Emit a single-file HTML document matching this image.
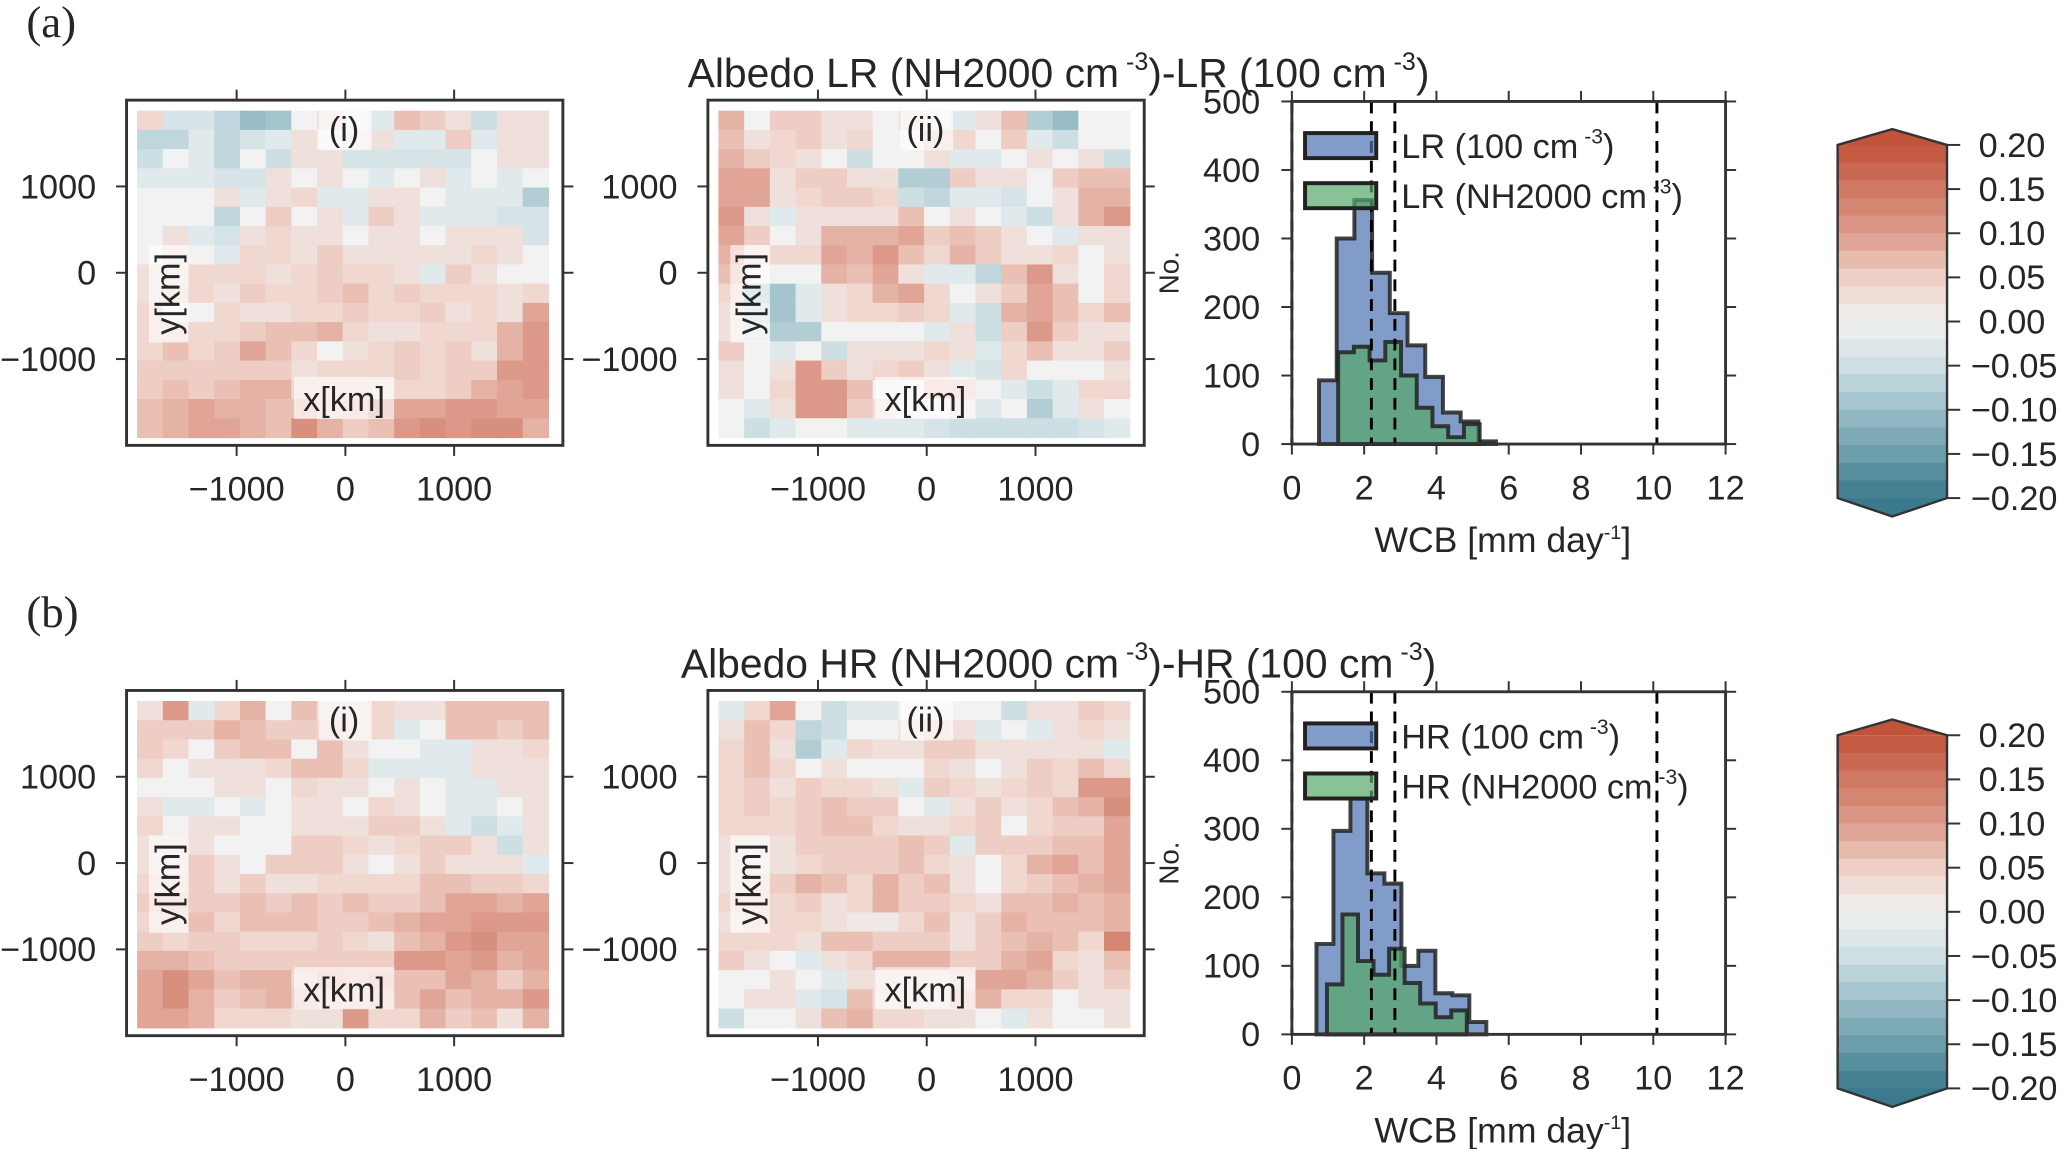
<!DOCTYPE html>
<html><head><meta charset="utf-8"><style>
html,body{margin:0;padding:0;background:#fff;}
svg{display:block;}
text{font-family:"Liberation Sans",sans-serif;fill:#262626;}
</style></head><body>
<svg id="fig" width="2067" height="1149" viewBox="0 0 1568 872" preserveAspectRatio="none" xmlns="http://www.w3.org/2000/svg"></svg>
<script>
// ---- data ----
const xTicks = [-1000, 0, 1000];
const yTicks = [1000, 0, -1000];
const histXTicks = [0, 2, 4, 6, 8, 10, 12];
const histYTicks = [0, 100, 200, 300, 400, 500];
const cbTicks = [0.20, 0.15, 0.10, 0.05, 0.00, -0.05, -0.10, -0.15, -0.20];
const dashLines = [0, 2.2, 2.85, 10.1];
const cellScale = 0.013;

const mapA1 = [
[3,-3,-3,-5,-8,-7,0,2,0,-2,5,4,2,-4,2,2],
[-5,-5,-2,-5,-3,-2,2,0,1,2,-2,-2,4,-2,2,2],
[-4,0,-2,-5,0,-4,2,2,-3,-3,-3,-3,-3,0,2,2],
[-2,-2,-2,-3,-3,2,0,2,0,-2,0,2,-2,0,-2,0],
[0,0,0,2,-2,2,3,-2,-2,2,2,0,-2,-2,-2,-6],
[0,0,0,-5,0,4,0,2,-2,4,2,-2,-2,-2,-3,-3],
[0,2,-2,-3,2,3,2,2,0,2,2,0,2,2,2,-3],
[0,2,0,-2,3,3,2,4,2,2,2,2,2,3,2,0],
[2,2,3,3,3,2,3,4,3,3,2,-2,4,2,0,0],
[2,3,3,2,4,3,3,4,5,3,4,3,3,3,2,3],
[3,0,0,3,2,2,3,3,4,3,3,4,2,3,2,7],
[3,3,3,3,4,5,5,6,3,2,2,3,3,3,6,8],
[3,5,3,4,7,5,3,0,2,3,4,3,4,2,6,8],
[4,4,4,4,4,4,2,3,3,3,4,3,4,4,8,8],
[4,5,4,5,6,6,3,3,3,2,3,3,4,6,7,8],
[5,6,7,6,6,5,5,3,4,7,7,7,8,8,7,7],
[5,6,7,7,6,5,9,6,4,5,8,9,8,9,9,6]];
const mapA2 = [
[6,0,4,4,2,2,0,2,0,-2,2,5,-6,-8,0,0],
[5,2,3,4,2,3,0,0,3,3,0,4,-2,-4,0,0],
[6,4,3,2,0,-4,0,0,2,-2,-2,0,2,0,2,-4],
[7,7,2,4,4,2,2,-6,-6,4,2,2,0,4,5,5],
[7,7,2,3,4,4,3,-4,-5,-2,-2,-3,0,2,6,6],
[8,2,-2,2,2,2,2,5,0,2,0,-2,-4,2,6,8],
[7,4,0,2,6,6,6,7,4,5,4,2,0,-2,2,2],
[6,2,3,3,7,6,8,5,3,6,4,2,2,3,0,2],
[5,0,0,0,6,5,7,2,-2,-2,-5,5,8,2,0,3],
[3,-6,-7,-2,2,3,6,7,3,0,2,4,7,5,0,3],
[2,-4,-7,-2,2,3,3,4,3,-2,-4,6,7,5,3,5],
[2,-3,-6,-6,0,0,0,0,-2,2,-4,4,8,4,2,2],
[4,0,-2,0,-4,2,2,2,3,2,-2,3,5,2,2,4],
[2,0,2,8,4,2,3,4,2,-2,-3,3,0,0,0,2],
[2,0,3,8,8,5,0,0,4,4,0,-2,-4,-2,3,3],
[0,-2,2,8,8,4,2,0,0,2,-2,0,-6,-2,2,0],
[0,-4,-2,0,0,-2,-2,-2,-3,-4,-4,-4,-4,-4,-3,-2]];
const mapB1 = [
[2,8,-2,3,6,0,5,2,2,3,2,2,5,5,5,5],
[4,4,4,6,5,4,4,3,2,3,-2,0,5,5,4,5],
[4,3,0,4,5,5,0,5,2,0,0,-2,-2,2,2,3],
[3,0,2,2,2,3,5,5,3,-2,-2,-2,-2,2,2,2],
[0,0,0,2,2,0,3,2,2,0,2,0,-2,-2,2,2],
[2,-2,-2,0,-2,0,2,2,0,3,2,0,-2,-2,0,2],
[3,0,2,2,0,0,2,2,2,4,4,2,-2,-4,-2,2],
[2,2,2,0,0,0,4,4,3,2,3,4,4,2,-4,2],
[2,2,4,2,0,4,4,4,2,0,2,4,2,2,2,-2],
[3,3,4,2,4,2,2,3,3,3,3,5,5,4,4,3],
[4,4,4,4,5,4,5,4,5,4,4,5,7,7,6,7],
[3,3,5,3,5,5,5,4,4,5,6,7,7,8,8,8],
[4,3,4,4,3,3,3,4,3,2,5,6,8,9,7,7],
[6,6,5,4,4,4,4,4,4,4,8,8,7,8,6,7],
[7,9,7,5,6,6,3,5,4,5,5,5,7,6,4,6],
[7,9,6,4,5,6,4,3,3,4,5,7,5,6,6,8],
[7,7,6,3,3,3,2,2,8,3,3,6,4,5,2,6]];
const mapB2 = [
[-2,3,7,0,-4,-2,-2,0,0,0,0,-4,2,2,4,3],
[2,5,3,-5,-4,0,0,2,3,2,-2,0,-2,2,3,2],
[3,5,2,-6,-2,3,2,2,4,4,2,2,2,2,2,-2],
[3,5,3,0,2,0,0,0,3,2,0,2,4,3,5,3],
[3,4,2,4,3,3,2,-2,4,3,2,3,4,3,8,8],
[3,4,3,4,5,4,4,0,-2,2,4,2,3,5,6,9],
[3,3,3,4,5,5,3,2,2,3,4,0,3,4,4,7],
[2,2,2,4,4,4,4,5,4,-2,4,4,4,5,5,7],
[2,2,2,3,4,4,4,5,3,2,0,3,6,7,5,7],
[2,3,4,6,5,3,6,4,5,2,0,3,4,5,6,7],
[3,3,3,4,2,3,6,4,4,3,2,5,5,6,5,6],
[2,3,3,3,2,1,1,3,5,2,4,6,5,5,5,6],
[3,3,3,2,5,5,4,4,4,2,4,5,6,5,3,10],
[4,2,0,-2,2,3,6,6,6,4,4,6,7,3,2,5],
[0,0,2,0,-2,2,2,2,2,3,7,7,6,4,2,4],
[0,2,2,-2,-3,5,2,2,2,4,6,3,3,0,2,2],
[-4,0,0,2,5,6,3,3,2,2,0,-2,2,0,0,2]];

const histA_blueEdges = [0.75,1.24,1.73,2.22,2.71,3.2,3.69,4.18,4.67,5.16,5.65];
const histA_blue = [93,300,356,250,191,144,98,46,33,4];
const histA_greenEdges = [1.28,1.715,2.15,2.585,3.02,3.455,3.89,4.325,4.76,5.195];
const histA_green = [134,142,122,149,100,53,26,10,29];
const histB_blueEdges = [0.68,1.15,1.62,2.09,2.56,3.03,3.5,3.97,4.44,4.91,5.38];
const histB_blue = [132,297,344,235,220,100,122,60,57,18];
const histB_greenEdges = [0.97,1.4,1.83,2.26,2.69,3.12,3.55,3.98,4.41,4.84];
const histB_green = [73,175,107,87,125,75,45,25,35];

// ---- helpers ----
const NS = "http://www.w3.org/2000/svg";
const svg = document.getElementById("fig");
const TF = 26;
function mk(tag, attrs, parent, txt){
  const e = document.createElementNS(NS, tag);
  for (const k in attrs) e.setAttribute(k, attrs[k]);
  if (txt !== undefined) e.textContent = txt;
  (parent || svg).appendChild(e);
  return e;
}
const stops = [[-0.2,[59,122,141]],[-0.1,[155,191,200]],[-0.05,[207,224,228]],[0,[242,242,242]],[0.05,[239,207,198]],[0.1,[221,156,140]],[0.2,[193,83,58]]];
function cmap(v){
  v = Math.max(-0.2, Math.min(0.2, v));
  for (let i=0;i<stops.length-1;i++){
    const a=stops[i], b=stops[i+1];
    if (v<=b[0]){ const t=(v-a[0])/(b[0]-a[0]);
      const c=a[1].map((x,j)=>Math.round(x+(b[1][j]-x)*t));
      return `rgb(${c[0]},${c[1]},${c[2]})`; }
  }
  return "rgb(193,83,58)";
}

function heatmap(ox, oy, data, label, name){
  const g = mk("g", {});
  
  
  const fx=ox, fy=oy, fw=331, fh=262;
  const cx0=fx+8, cy0=fy+8, cw=(fw-19)/16, ch=(fh-14)/17;
  const xs = v => fx+166+v*0.0825;
  const ys = v => fy+131-v*0.0655;
  data.forEach((row,r)=>row.forEach((v,c)=>{
    const cell = mk("rect",{x:cx0+c*cw,y:cy0+r*ch,width:cw+0.5,height:ch+0.5,fill:cmap(v*cellScale)},g);
    
    
  }));
  const fr = mk("rect",{x:fx,y:fy,width:fw,height:fh,fill:"none",stroke:"#333","stroke-width":2.2},g);
  
  
  xTicks.forEach(t=>{
    mk("line",{x1:xs(t),x2:xs(t),y1:fy+fh,y2:fy+fh+8,stroke:"#333","stroke-width":1.5},g);
    mk("line",{x1:xs(t),x2:xs(t),y1:fy,y2:fy-8,stroke:"#333","stroke-width":1.5},g);
    const tl = mk("text",{x:xs(t),y:fy+fh+42,"font-size":TF,"text-anchor":"middle"},g,t<0?"\u2212"+Math.abs(t):String(t));
    
    
  });
  yTicks.forEach(t=>{
    mk("line",{x1:fx,x2:fx-8,y1:ys(t),y2:ys(t),stroke:"#333","stroke-width":1.5},g);
    mk("line",{x1:fx+fw,x2:fx+fw+8,y1:ys(t),y2:ys(t),stroke:"#333","stroke-width":1.5},g);
    const tl = mk("text",{x:fx-23,y:ys(t)+9,"font-size":TF,"text-anchor":"end"},g,t<0?"\u2212"+Math.abs(t):String(t));
    
    
  });
  mk("rect",{x:fx+146,y:fy+2,width:40,height:36,fill:"#fff","fill-opacity":0.6},g);
  const pl = mk("text",{x:fx+165,y:fy+31,"font-size":TF,"text-anchor":"middle"},g,label);
  
  
  mk("rect",{x:fx+17,y:fy+110,width:30,height:74,fill:"#fff","fill-opacity":0.6},g);
  const yl = mk("text",{transform:`translate(${fx+40},${fy+147}) rotate(-90)`,"font-size":TF,"text-anchor":"middle"},g,"y[km]");
  
  
  mk("rect",{x:fx+127,y:fy+210,width:76,height:32,fill:"#fff","fill-opacity":0.6},g);
  const xl = mk("text",{x:fx+165,y:fy+236,"font-size":TF,"text-anchor":"middle"},g,"x[km]");
  
  
}

function histogram(oy, blueE, blueV, greenE, greenV, prefix, name){
  const g = mk("g", {});
  
  
  const fx=980, fw=329, fy=oy, fh=260;
  const xs = v => fx+v*fw/12;
  const ys = v => fy+fh-v*fh/500;
  function stepPath(E,V){
    let d=`M${xs(E[0])},${ys(0)}`;
    V.forEach((v,i)=>{ d+=` L${xs(E[i])},${ys(v)} L${xs(E[i+1])},${ys(v)}`; });
    d+=` L${xs(E[V.length])},${ys(0)} Z`;
    return d;
  }
  const bp = mk("path",{d:stepPath(blueE,blueV),fill:"#4c72b0","fill-opacity":0.7,stroke:"#222","stroke-opacity":0.85,"stroke-width":3,"stroke-linejoin":"miter"},g);
  
  
  const gp = mk("path",{d:stepPath(greenE,greenV),fill:"#55a868","fill-opacity":0.7,stroke:"#222","stroke-opacity":0.85,"stroke-width":3,"stroke-linejoin":"miter"},g);
  
  
  dashLines.forEach(v=>{
    const l = mk("line",{x1:xs(v),x2:xs(v),y1:fy,y2:fy+fh,stroke:"#000","stroke-width":2.2,"stroke-dasharray":"9,6"},g);
    
    
  });
  const fr = mk("rect",{x:fx,y:fy,width:fw,height:fh,fill:"none",stroke:"#333","stroke-width":2.2},g);
  
  
  histXTicks.forEach(t=>{
    mk("line",{x1:xs(t),x2:xs(t),y1:fy+fh,y2:fy+fh+8,stroke:"#333","stroke-width":1.5},g);
    mk("line",{x1:xs(t),x2:xs(t),y1:fy,y2:fy-8,stroke:"#333","stroke-width":1.5},g);
    const tl = mk("text",{x:xs(t),y:fy+fh+42,"font-size":TF,"text-anchor":"middle"},g,String(t));
    
    
  });
  histYTicks.forEach(t=>{
    mk("line",{x1:fx,x2:fx-8,y1:ys(t),y2:ys(t),stroke:"#333","stroke-width":1.5},g);
    mk("line",{x1:fx+fw,x2:fx+fw+8,y1:ys(t),y2:ys(t),stroke:"#333","stroke-width":1.5},g);
    const tl = mk("text",{x:fx-24,y:ys(t)+9,"font-size":TF,"text-anchor":"end"},g,String(t));
    
    
  });
  const nl = mk("text",{transform:`translate(${fx-86},${fy+130}) rotate(-90)`,"font-size":21,"text-anchor":"middle"},g,"No.");
  
  
  const xt = mk("text",{x:fx+160,y:fy+fh+82,"font-size":27,"text-anchor":"middle"},g);
  
  
  xt.innerHTML = 'WCB [mm day<tspan font-size="15" dy="-10">-1</tspan><tspan dy="10">]</tspan>';
  // legend
  const lb = mk("rect",{x:fx+10,y:fy+24,width:54,height:19,fill:"#4c72b0","fill-opacity":0.7,stroke:"#222","stroke-width":3},g);
  
  
  const lg = mk("rect",{x:fx+10,y:fy+62,width:54,height:19,fill:"#55a868","fill-opacity":0.7,stroke:"#222","stroke-width":3},g);
  
  
  const t1 = mk("text",{x:fx+83,y:fy+43,"font-size":26},g);
  
  
  t1.innerHTML = prefix+' (100 cm<tspan font-size="16" dy="-11"> -3</tspan><tspan dy="11">)</tspan>';
  const t2 = mk("text",{x:fx+83,y:fy+81,"font-size":26},g);
  
  
  t2.innerHTML = prefix+' (NH2000 cm<tspan font-size="16" dy="-11"> -3</tspan><tspan dy="11">)</tspan>';
}

function colorbar(oy, name){
  const g = mk("g", {});
  
  
  const x0=1394, w=83, top=oy+110, bot=oy+378;
  const n=20, bh=(bot-top)/n;
  for(let i=0;i<n;i++){
    const v = 0.2 - (i+0.5)*0.4/n;
    mk("rect",{x:x0,y:top+i*bh,width:w,height:bh+0.5,fill:cmap(v)},g);
  }
  mk("polygon",{points:`${x0},${top} ${x0+w/2},${oy+98} ${x0+w},${top}`,fill:cmap(0.2)},g);
  mk("polygon",{points:`${x0},${bot} ${x0+w/2},${oy+392} ${x0+w},${bot}`,fill:cmap(-0.2)},g);
  mk("polygon",{points:`${x0},${top} ${x0+w/2},${oy+98} ${x0+w},${top} ${x0+w},${bot} ${x0+w/2},${oy+392} ${x0},${bot}`,fill:"none",stroke:"#333","stroke-width":1.8},g);
  cbTicks.forEach(t=>{
    const y = top + (0.2-t)/0.4*(bot-top);
    mk("line",{x1:x0+w,x2:x0+w+10,y1:y,y2:y,stroke:"#333","stroke-width":1.5},g);
    const s = (t<0?"\u2212":"")+Math.abs(t).toFixed(2);
    const tl = mk("text",{x:x0+(t<0?101:107),y:y+9,"font-size":TF},g,s);
    
    
  });
}

function title(oy, pre){
  const t = mk("text",{x:803,y:oy+66,"font-size":31,"text-anchor":"middle"});
  
  
  t.innerHTML = `Albedo ${pre} (NH2000 cm<tspan font-size="19" dy="-13"> -3</tspan><tspan dy="13">)-${pre} (100 cm</tspan><tspan font-size="19" dy="-13"> -3</tspan><tspan dy="13">)</tspan>`;
}

// row (a)
const la = mk("text",{x:20,y:28,"font-size":34,style:"font-family:'Liberation Serif',serif"},svg,"(a)");


heatmap(96,76,mapA1,"(i)","heatmap-a-i");
heatmap(537,76,mapA2,"(ii)","heatmap-a-ii");
histogram(77,histA_blueEdges,histA_blue,histA_greenEdges,histA_green,"LR","histogram-a");
colorbar(0,"colorbar-a");
title(0,"LR");

// row (b)
const off=448;
const lbb = mk("text",{x:20,y:28+off,"font-size":34,style:"font-family:'Liberation Serif',serif"},svg,"(b)");


heatmap(96,76+off,mapB1,"(i)","heatmap-b-i");
heatmap(537,76+off,mapB2,"(ii)","heatmap-b-ii");
histogram(77+off,histB_blueEdges,histB_blue,histB_greenEdges,histB_green,"HR","histogram-b");
colorbar(off,"colorbar-b");
title(off,"HR");
</script>
</body></html>
